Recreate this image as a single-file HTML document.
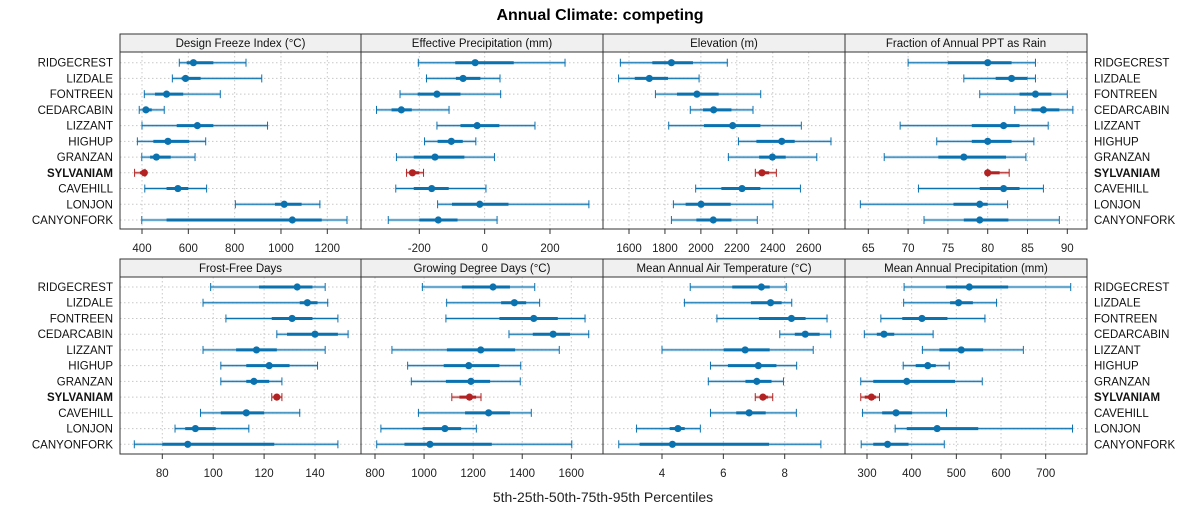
<!DOCTYPE html>
<html><head><meta charset="utf-8">
<style>
body{margin:0;background:#fff;}
svg{display:block;font-family:"Liberation Sans",sans-serif;}
</style></head>
<body>
<svg id="chart" width="1200" height="525" viewBox="0 0 1200 525">
<text x="600" y="20" text-anchor="middle" font-size="16" font-weight="bold" fill="#000">Annual Climate: competing</text>
<text x="603" y="502" text-anchor="middle" font-size="14" fill="#222">5th-25th-50th-75th-95th Percentiles</text>
</svg>
<script>
const siteNames = ["RIDGECREST","LIZDALE","FONTREEN","CEDARCABIN","LIZZANT","HIGHUP","GRANZAN","SYLVANIAM","CAVEHILL","LONJON","CANYONFORK"];
const highlightSite = "SYLVANIAM";
const panelTitles = ["Design Freeze Index (°C)","Effective Precipitation (mm)","Elevation (m)","Fraction of Annual PPT as Rain","Frost-Free Days","Growing Degree Days (°C)","Mean Annual Air Temperature (°C)","Mean Annual Precipitation (mm)"];
// each row: [p5, p25, p50, p75, p95]
const freezeIndex = [[561,593,622,708,849],[531,571,588,653,917],[410,456,506,578,738],[388,406,417,442,496],[400,550,639,708,942],[380,449,512,604,675],[399,435,462,524,629],[368,391,410,413,413],[412,506,555,600,679],[803,974,1014,1089,1168],[399,506,1049,1176,1285]];
const effPrecip = [[-203,-90,-29,89,246],[-178,-88,-66,-13,47],[-259,-205,-146,-74,49],[-331,-285,-255,-223,-109],[-146,-74,-23,45,154],[-184,-144,-102,-67,-27],[-270,-217,-152,-62,30],[-239,-230,-221,-200,-187],[-272,-217,-162,-110,4],[-144,-100,-15,73,319],[-295,-200,-142,-83,38]];
const elevation = [[1552,1730,1836,1956,2147],[1542,1632,1713,1817,1990],[1747,1867,1978,2099,2333],[1941,2012,2071,2170,2290],[1821,2017,2177,2331,2559],[2209,2309,2450,2522,2724],[2153,2324,2398,2472,2645],[2303,2330,2340,2380,2420],[1971,2114,2229,2331,2554],[1847,1915,2001,2166,2401],[1836,1975,2069,2170,2314]];
const rainFraction = [[70,75,80,83,86],[77,81,83,85,86],[79,84,86,88,90],[83.4,85.5,87,89,90.7],[69,78,82,84,87.6],[73.6,78,80,83,85.8],[67,73.8,77,82.3,84.8],[80,80,80,81.5,82.7],[71.3,79,82,84,87],[64,75.7,79,80,82.5],[72,77,79,82.6,89]];
const frostFree = [[99,118,133,139,144],[96,134,137,141,145],[105,123,131,139,149],[125,129,140,149,153],[96,109,117,125,144],[103,113,122,130,141],[103,113,116,122,127],[123,124,125,126,127],[95,103,113,120,134],[85,89,93,101,114],[69,80,90,124,149]];
const growDegDays = [[993,1154,1281,1350,1451],[1092,1314,1368,1416,1471],[1089,1307,1447,1545,1656],[1346,1443,1526,1595,1671],[869,1093,1231,1371,1551],[933,1080,1182,1307,1394],[948,1089,1191,1269,1392],[1113,1144,1185,1212,1232],[977,1167,1263,1350,1437],[824,994,1085,1151,1213],[807,920,1024,1276,1602]];
const airTemp = [[4.92,6.29,7.24,7.51,8.05],[4.73,6.9,7.54,7.9,8.23],[5.79,7.16,8.22,8.68,9.38],[7.84,8.33,8.67,9.14,9.5],[4.0,6.01,6.71,7.51,8.93],[5.58,6.15,7.14,7.73,8.39],[5.51,6.72,7.09,7.57,7.96],[7.04,7.2,7.29,7.45,7.61],[5.58,6.42,6.84,7.38,8.38],[3.17,4.25,4.52,4.74,5.25],[2.59,3.27,4.34,7.49,9.18]];
const annPrecip = [[383,477,529,616,756],[382,486,505,537,590],[331,379,423,480,564],[294,322,338,361,448],[424,462,511,560,650],[381,409,436,454,484],[286,314,389,497,558],[286,295,310,320,328],[290,334,365,401,478],[363,389,457,549,760],[287,314,346,393,473]];
const ticksFreeze = [400,600,800,1000,1200];
const ticksEffPrecip = [-200,0,200];
const ticksElev = [1600,1800,2000,2200,2400,2600];
const ticksRain = [65,70,75,80,85,90];
const ticksFrost = [80,100,120,140];
const ticksGDD = [800,1000,1200,1400,1600];
const ticksTemp = [4,6,8];
const ticksPrecip = [300,400,500,600,700];

const NS="http://www.w3.org/2000/svg";
const svg=document.getElementById('chart');
function mk(tag,attrs,parent){const e=document.createElementNS(NS,tag);for(const k in attrs)e.setAttribute(k,attrs[k]);(parent||svg).appendChild(e);return e;}
const colX=[120,361,603,845,1087];
const rows=[{strip:34,top:52,bot:229,first:62.7,step:15.73},{strip:259,top:277,bot:454,first:287,step:15.73}];
const panels=[
 {data:freezeIndex,ticks:ticksFreeze,d:[400,1200],p:[142,327.3]},
 {data:effPrecip,ticks:ticksEffPrecip,d:[-200,200],p:[419.3,550]},
 {data:elevation,ticks:ticksElev,d:[1600,2600],p:[629,808.7]},
 {data:rainFraction,ticks:ticksRain,d:[65,90],p:[868.3,1067.3]},
 {data:frostFree,ticks:ticksFrost,d:[80,140],p:[162.3,315]},
 {data:growDegDays,ticks:ticksGDD,d:[800,1600],p:[375,571.3]},
 {data:airTemp,ticks:ticksTemp,d:[4,8],p:[662,784.7]},
 {data:annPrecip,ticks:ticksPrecip,d:[300,700],p:[867,1045.7]}
];
panels.forEach((P,i)=>{
 const r=rows[Math.floor(i/4)], c=i%4, x0=colX[c], x1=colX[c+1];
 const sx=v=>P.p[0]+(v-P.d[0])*(P.p[1]-P.p[0])/(P.d[1]-P.d[0]);
 const g=mk('g',{});
 
 
 const strip=mk('rect',{x:x0,y:r.strip,width:x1-x0,height:r.top-r.strip,fill:'#f0f0f0',stroke:'#333','stroke-width':1},g);
 
 
 const st=mk('text',{x:(x0+x1)/2,y:r.strip+13,'text-anchor':'middle','font-size':11.5,fill:'#111'},g);
 st.textContent=panelTitles[i];
 
 
 siteNames.forEach((n,k)=>{const y=r.first+k*r.step;mk('line',{x1:x0,x2:x1,y1:y,y2:y,stroke:'#c8c8c8','stroke-dasharray':'1.5,2.5','stroke-width':1},g);});
 P.ticks.forEach(t=>{const x=sx(t);
  mk('line',{x1:x,x2:x,y1:r.top,y2:r.bot,stroke:'#c8c8c8','stroke-dasharray':'1.5,2.5','stroke-width':1},g);
  mk('line',{x1:x,x2:x,y1:r.bot,y2:r.bot+5,stroke:'#333','stroke-width':1},g);
  const tl=mk('text',{x:x,y:r.bot+23,'text-anchor':'middle','font-size':11.5,fill:'#222'},g);
  tl.textContent=t;
  
  
 });
 P.data.forEach((q,k)=>{
  const y=r.first+k*r.step; const hl=siteNames[k]===highlightSite;
  const col=hl?'#b22222':'#0b72b0', light=hl?'rgba(178,34,34,0.25)':'rgba(20,120,185,0.25)';
  const m=mk('g',{},g);
  
  
  mk('line',{x1:sx(q[0]),x2:sx(q[4]),y1:y,y2:y,stroke:light,'stroke-width':3},m);
  mk('line',{x1:sx(q[0]),x2:sx(q[4]),y1:y,y2:y,stroke:col,'stroke-width':1},m);
  mk('line',{x1:sx(q[0]),x2:sx(q[0]),y1:y-4,y2:y+4,stroke:col,'stroke-width':1},m);
  mk('line',{x1:sx(q[4]),x2:sx(q[4]),y1:y-4,y2:y+4,stroke:col,'stroke-width':1},m);
  mk('line',{x1:sx(q[1]),x2:sx(q[3]),y1:y,y2:y,stroke:col,'stroke-width':3},m);
  mk('circle',{cx:sx(q[2]),cy:y,r:3.6,fill:col},m);
 });
 const fr=mk('rect',{x:x0,y:r.top,width:x1-x0,height:r.bot-r.top,fill:'none',stroke:'#333','stroke-width':1},g);
 
 
});
rows.forEach(r=>{
 siteNames.forEach((n,k)=>{const y=r.first+k*r.step+4;const hl=n===highlightSite;
  const a=mk('text',{x:113,y:y,'text-anchor':'end','font-size':11.5,fill:'#111','font-weight':hl?'bold':'normal'});
  a.textContent=n;
  
  
  const b=mk('text',{x:1094,y:y,'text-anchor':'start','font-size':11.5,fill:'#111','font-weight':hl?'bold':'normal'});
  b.textContent=n;
  
  
 });
});
</script>
</body></html>
